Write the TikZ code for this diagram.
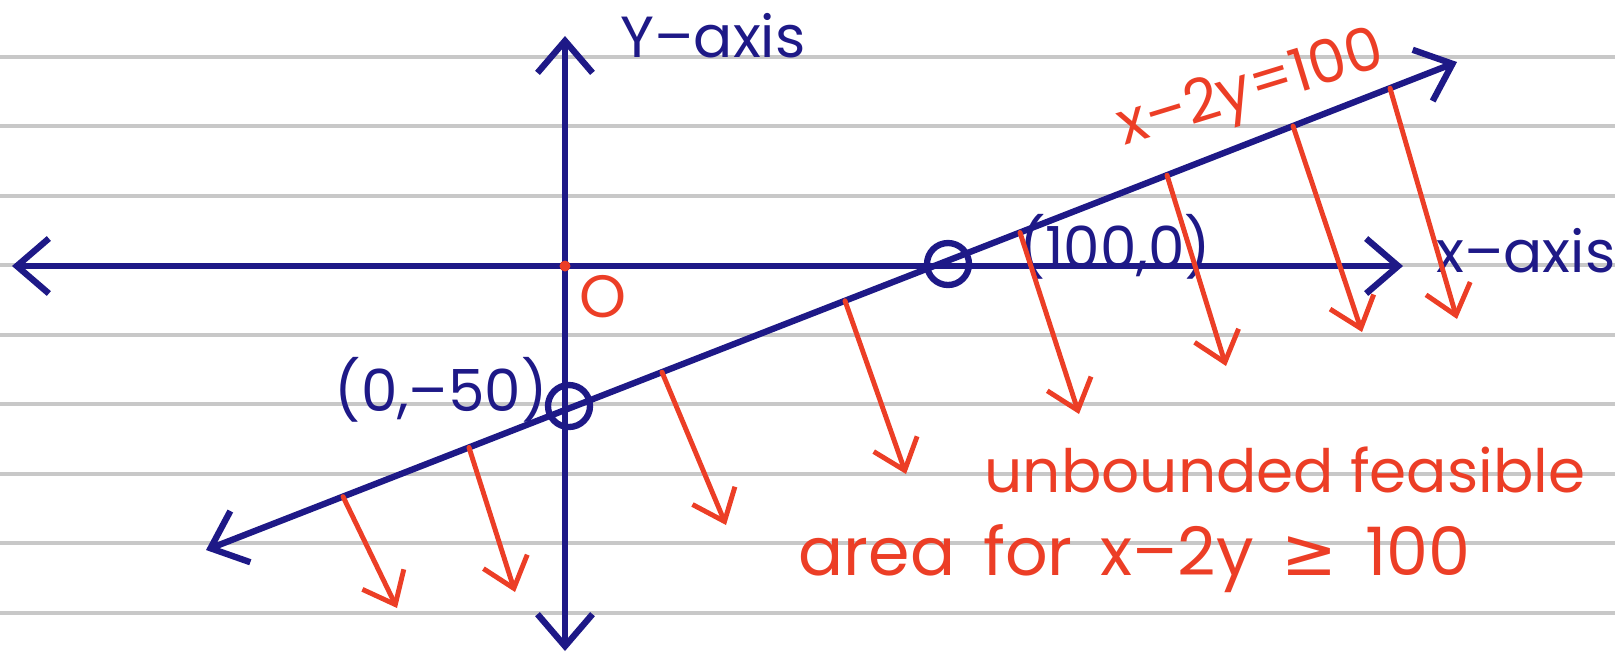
\documentclass[tikz,border=0pt]{standalone}
\usepackage{fontspec}
\setmainfont{Poppins}
\newfontfamily\symfont{DejaVu Sans}
\usetikzlibrary{arrows.meta,calc}
\definecolor{inkblue}{RGB}{30,25,135}
\definecolor{inkred}{RGB}{236,62,38}
\definecolor{paperline}{RGB}{200,200,200}

\begin{document}
\begin{tikzpicture}[x=0.1mm,y=-0.1mm,
    axisline/.style={inkblue,line width=1.8pt,line cap=round,
      >={Straight Barb[length=3.2mm,width=5.5mm]},<->},
    feasarrow/.style={inkred,line width=1.4pt,line cap=round,
      >={Straight Barb[length=2.8mm,width=4.6mm]},->},
    mark circle/.style={draw=inkblue,line width=1.8pt,circle,minimum size=4.2mm,inner sep=0pt},
    bluetext/.style={inkblue,inner sep=0pt,font=\fontsize{16.5}{20}\selectfont},
    redtext/.style={inkred,inner sep=0pt,font=\fontsize{17}{21}\selectfont}]
  \useasboundingbox (0,0) rectangle (1615,659);
  % Ruled paper
  \foreach \ry in {57,126,196,265,335,404,474,543,613}
    \draw[paperline,line width=1.2pt] (0,\ry) -- (1615,\ry);
  % Axes
  \coordinate (O) at (565,266);
  \coordinate (xl) at (12,266);
  \coordinate (xr) at (1403,266);
  \coordinate (yt) at (565,36);
  \coordinate (yb) at (565,651);
  \draw[axisline] (xl) -- (xr);
  \draw[axisline] (yb) -- (yt);
  \node[bluetext,anchor=base west] (ylab) at (620,57) {Y–axis};
  \node[bluetext,anchor=base west] (xlab) at (1436,272) {x–axis};
  \fill[inkred] (O) circle (0.55mm);
  \node[redtext] (olab) at (603,297) {O};
  % Line x-2y=100 and its intercepts
  \coordinate (la) at (206,550);
  \coordinate (lb) at (1457,62);
  \draw[axisline] (la) -- (lb);
  \node[mark circle] (cy) at (569,406) {};
  \node[mark circle] (cx) at (948,264) {};
  \node[bluetext] (cylab) at (441,390) {(0,–50)};
  \node[bluetext] (cxlab) at (1115,247) {(100,0)};
  \node[redtext,rotate=17] (eqlab) at (1252,92) {x–2y=100};
  % Arrows into the feasible side
  \foreach \sx/\ex/\ey in {343/397/608,469/515/592,662/726/525,845/906/474,
      1020/1079/414,1167/1226/366,1293/1362/332,1390/1457/319} {
    \pgfmathsetmacro\t{(\sx-206)/1251}
    \draw[feasarrow] ($(la)!\t!(lb)$) -- (\ex,\ey);
  }
  \node[redtext,anchor=base west] (reg1) at (984,492) {unbounded feasible};
  \node[redtext,anchor=base west,font=\fontsize{19}{23}\selectfont] (reg2) at (798,575)
    {area\hspace{0.15em} for\hspace{0.15em} x–2y\hspace{0.15em} {\symfont ≥}\hspace{0.15em} 100};
\end{tikzpicture}
\end{document}
